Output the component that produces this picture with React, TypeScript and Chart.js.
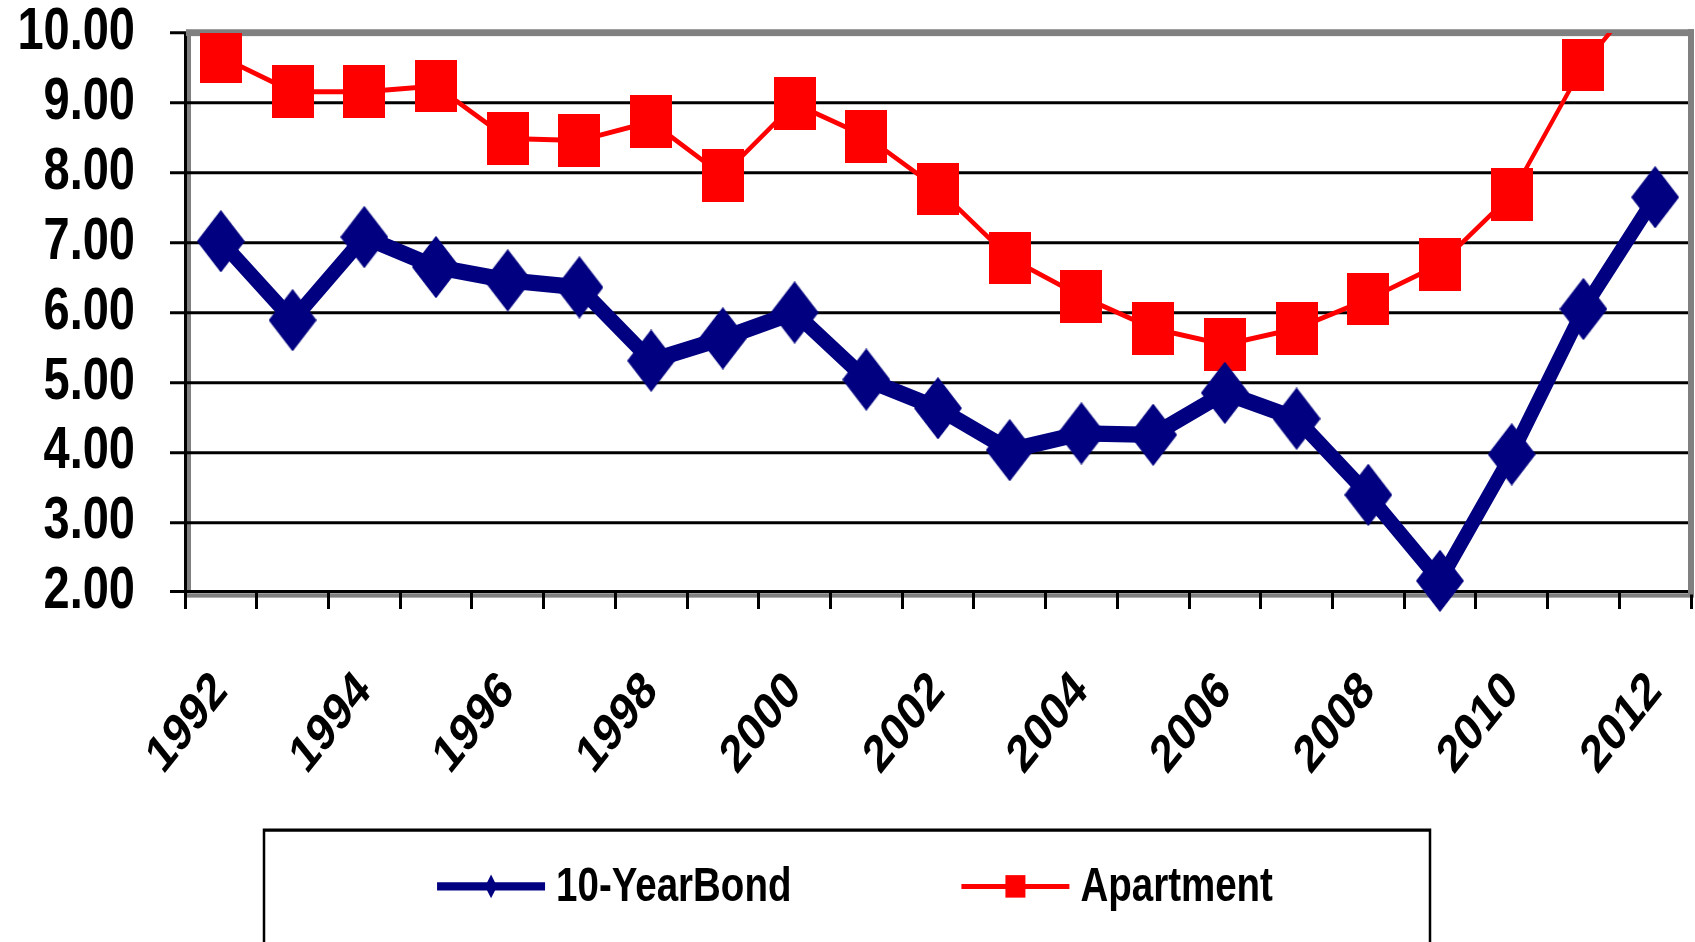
import React, { useEffect, useRef } from 'react';
import { Chart, registerables } from 'chart.js';

Chart.register(...registerables);

const years = ['1992', '1993', '1994', '1995', '1996', '1997', '1998', '1999', '2000', '2001', '2002',
  '2003', '2004', '2005', '2006', '2007', '2008', '2009', '2010', '2011', '2012'];
const bondYields = [7.02, 5.89, 7.08, 6.65, 6.46, 6.36, 5.31, 5.63, 6.0, 5.04, 4.63,
  4.03, 4.27, 4.25, 4.85, 4.48, 3.39, 2.16, 3.97, 6.05, 7.65];
const apartmentRates = [9.66, 9.16, 9.16, 9.24, 8.49, 8.46, 8.73, 7.96, 8.99, 8.52, 7.77,
  6.78, 6.23, 5.77, 5.54, 5.77, 6.19, 6.69, 7.69, 9.54, 10.8];
const seriesNames = ['10-YearBond', 'Apartment'];
const yMin = 2;
const yMax = 10;
const yStep = 1;

const NAVY = '#000080';
const RED = '#FF0000';
const FONT = '"Liberation Sans", Arial, sans-serif';
// the whole picture is drawn with a vertical stretch, as in the original image
const S = 1.25;

function makeDiamond(w: number, h: number, color: string) {
  const c = document.createElement('canvas');
  c.width = w; c.height = h;
  const g = c.getContext('2d')!;
  g.fillStyle = color;
  g.beginPath();
  g.moveTo(w / 2, 0); g.lineTo(w, h / 2); g.lineTo(w / 2, h); g.lineTo(0, h / 2);
  g.closePath(); g.fill();
  return c;
}
function makeRect(w: number, h: number, color: string) {
  const c = document.createElement('canvas');
  c.width = w; c.height = h;
  const g = c.getContext('2d')!;
  g.fillStyle = color;
  g.fillRect(0, 0, w, h);
  return c;
}

const frameBack = {
  id: 'frameBack',
  beforeDraw(chart: any) {
    const { ctx, chartArea } = chart;
    ctx.save();
    ctx.scale(1, S);
    if (!chartArea) return;
    const { left, right, top, bottom } = chartArea;
    ctx.save();
    ctx.fillStyle = '#808080';
    ctx.fillRect(left + 1, top, 5, bottom - top);
    ctx.fillRect(left, bottom + 1, right - left + 3, 3.5);
    ctx.restore();
  },
  beforeDatasetsDraw(chart: any) {
    const { ctx, chartArea } = chart;
    const { left, right, top, bottom } = chartArea;
    ctx.save();
    ctx.fillStyle = '#808080';
    ctx.fillRect(left + 1, top - 3, right - left + 2, 5.5);
    ctx.fillRect(right - 3, top - 3, 6, bottom - top + 5);
    ctx.restore();
  },
};

const boxLegend = {
  id: 'boxLegend',
  afterDraw(chart: any) {
    const { ctx, chartArea } = chart;
    const boxLeft = chartArea.left + 79;
    const boxRight = chartArea.left + 1245;
    const boxTop = chartArea.bottom + 190.5;
    ctx.save();
    ctx.strokeStyle = '#000';
    ctx.lineWidth = 2.5;
    ctx.beginPath();
    ctx.moveTo(boxLeft, chart.height);
    ctx.lineTo(boxLeft, boxTop);
    ctx.lineTo(boxRight, boxTop);
    ctx.lineTo(boxRight, chart.height);
    ctx.stroke();

    ctx.font = `bold 38.5px ${FONT}`;
    ctx.textBaseline = 'middle';
    ctx.textAlign = 'left';
    const sample = 108, gap = 11, itemGap = 170;
    const ds = chart.data.datasets;
    const widths = ds.map((d: any) => ctx.measureText(d.label).width);
    const total = widths.reduce((a: number, b: number) => a + b, 0) + ds.length * (sample + gap) + itemGap * (ds.length - 1);
    let x = (boxLeft + boxRight) / 2 + 8 - total / 2;
    const cy = boxTop + 45;
    ds.forEach((d: any, i: number) => {
      ctx.strokeStyle = d.borderColor;
      ctx.lineWidth = i === 0 ? 6.5 : 4;
      ctx.beginPath();
      ctx.moveTo(x, cy); ctx.lineTo(x + sample, cy);
      ctx.stroke();
      ctx.fillStyle = d.borderColor;
      const mx = x + sample / 2;
      if (i === 0) {
        ctx.beginPath();
        ctx.moveTo(mx, cy - 9.5); ctx.lineTo(mx + 6, cy); ctx.lineTo(mx, cy + 9.5); ctx.lineTo(mx - 6, cy);
        ctx.closePath(); ctx.fill();
      } else {
        ctx.fillRect(mx - 10, cy - 9, 20, 18);
      }
      ctx.fillStyle = '#000';
      ctx.fillText(d.label, x + sample + gap, cy + 1);
      x += sample + gap + widths[i] + itemGap;
    });
    ctx.restore();
    ctx.restore(); // end of the vertical stretch
  },
};

export default function App() {
  const ref = useRef<HTMLCanvasElement>(null);
  useEffect(() => {
    const diamond = makeDiamond(48, 50, NAVY);
    const square = makeRect(42, 42, RED);
    const chart = new Chart(ref.current!, {
      type: 'line',
      data: {
        labels: years,
        datasets: [
          {
            label: seriesNames[0],
            data: bondYields,
            borderColor: NAVY,
            backgroundColor: NAVY,
            borderWidth: 13,
            borderJoinStyle: 'round',
            borderCapStyle: 'round',
            pointStyle: diamond as any,
            pointRadius: 5,
            tension: 0,
            clip: false as any,
          },
          {
            label: seriesNames[1],
            data: apartmentRates,
            borderColor: RED,
            backgroundColor: RED,
            borderWidth: 4,
            pointStyle: square as any,
            pointRadius: 5,
            tension: 0,
          },
        ],
      },
      options: {
        responsive: false,
        animation: false,
        events: [],
        layout: { autoPadding: false, padding: { left: 0, right: 4, top: 26.4, bottom: 308.4 } },
        plugins: {
          legend: { display: false },
          tooltip: { enabled: false },
          title: { display: false },
        },
        scales: {
          x: {
            type: 'category',
            offset: true,
            grid: {
              display: true,
              offset: true,
              drawOnChartArea: false,
              drawTicks: true,
              tickLength: 13.6,
              color: '#000',
              lineWidth: 3,
            },
            border: { display: true, color: '#000', width: 2.4 },
            ticks: {
              autoSkip: false,
              minRotation: 45,
              maxRotation: 45,
              padding: 41,
              color: '#000',
              font: { family: FONT, size: 42, weight: 'bold' },
              callback: (_v: any, i: number) => (i % 2 === 0 ? years[i] : ''),
            },
            afterFit: (s: any) => { s.height = 160; s.paddingLeft = 0; s.paddingRight = 0; },
          },
          y: {
            min: yMin,
            max: yMax,
            ticks: {
              stepSize: yStep,
              padding: 35,
              color: '#000',
              font: { family: FONT, size: 47, weight: 'bold', lineHeight: 1 },
              callback: (v: any) => Number(v).toFixed(2),
            },
            grid: {
              color: (c: any) => (c.tick && c.tick.value === yMax ? '#808080' : '#000'),
              tickColor: '#000',
              lineWidth: 2.4,
              tickLength: 15,
            },
            border: { display: true, color: '#000', width: 3 },
            afterFit: (s: any) => { s.width = 185; s.paddingTop = 0; s.paddingBottom = 0; },
          },
        },
      },
      plugins: [frameBack, boxLegend],
    });
    return () => chart.destroy();
  }, []);
  return (
    <canvas
      ref={ref}
      width={1695}
      height={942}
      style={{ position: 'fixed', left: 0, top: 0, width: 1695, height: 942 }}
    />
  );
}
